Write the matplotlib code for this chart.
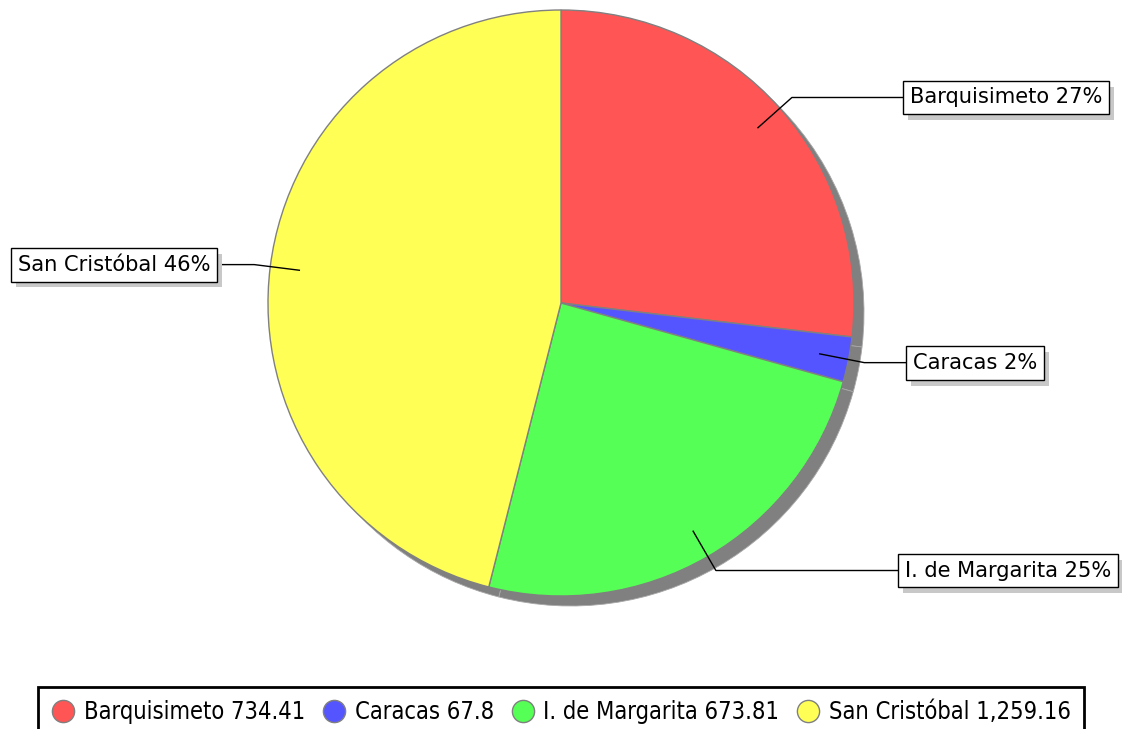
import matplotlib
matplotlib.use('Agg')
import matplotlib.pyplot as plt
import numpy as np
from matplotlib.lines import Line2D
import matplotlib.patheffects as pe

categories = ['Barquisimeto', 'Caracas', 'I. de Margarita', 'San Cristóbal']
values = [734.41, 67.8, 673.81, 1259.16]
colors = ['#FF5555', '#5555FF', '#55FF55', '#FFFF55']

# layout (pixels)
W, H = 1122, 729
label_edge_x = [903, 906, 898, 217]

fig = plt.figure(figsize=(W / 100, H / 100), dpi=100)
ax = fig.add_axes([0, 0, 1, 1])
cx, cy, R = 561, H - 303, 293
sh = 10
ax.pie(values, colors=['#808080'] * 4, center=(cx + sh, cy - sh), radius=R,
       startangle=90, counterclock=False,
       wedgeprops=dict(edgecolor='#a8a8a8', linewidth=0.6))
wedges, _ = ax.pie(values, colors=colors, center=(cx, cy), radius=R,
                   startangle=90, counterclock=False,
                   wedgeprops=dict(edgecolor='#808080', linewidth=1))
ax.set_xlim(0, W)
ax.set_ylim(0, H)
ax.set_aspect('auto')
ax.axis('off')

total = sum(values)
fs = 15.1
pad = 0.33
for w, cat, v, bx in zip(wedges, categories, values, label_edge_x):
    th = np.deg2rad((w.theta1 + w.theta2) / 2)
    p1 = (cx + 0.9 * R * np.cos(th), cy + 0.9 * R * np.sin(th))
    p2 = (cx + 1.055 * R * np.cos(th), cy + 1.055 * R * np.sin(th))
    right = np.cos(th) >= 0
    ax.plot([p1[0], p2[0], bx], [p1[1], p2[1], p2[1]], color='black', lw=1, zorder=5)
    txt = f"{cat} {round(100 * v / total)}%"
    padpx = pad * fs * 100 / 72
    tx = bx + padpx if right else bx - padpx
    ha = 'left' if right else 'right'
    t = ax.text(tx, p2[1], txt, ha=ha, va='center', fontsize=fs, color='black', zorder=7,
                bbox=dict(boxstyle=f'square,pad={pad}', fc='white', ec='black', lw=1))
    t.get_bbox_patch().set_path_effects([
        pe.SimplePatchShadow(offset=(3.6, -4.3), shadow_rgbFace='#c8c8c8', alpha=1),
        pe.Normal()])

handles = [Line2D([], [], marker='o', linestyle='none', markersize=16,
                  markerfacecolor=c, markeredgecolor='#808080', markeredgewidth=1)
           for c in colors]
labels = [f"{c} {v:,}" for c, v in zip(categories, values)]
leg = fig.legend(handles, labels, loc='upper center', bbox_to_anchor=(0.5, (H - 687) / H),
                 ncol=4, frameon=True, fancybox=False, edgecolor='black', framealpha=1,
                 prop=dict(family='DejaVu Sans', stretch='condensed', size=17),
                 handletextpad=0.38, columnspacing=0.72, borderpad=0.55,
                 handlelength=1.0, borderaxespad=0)
leg.get_frame().set_linewidth(2)

fig.savefig('out.png', dpi=100)
